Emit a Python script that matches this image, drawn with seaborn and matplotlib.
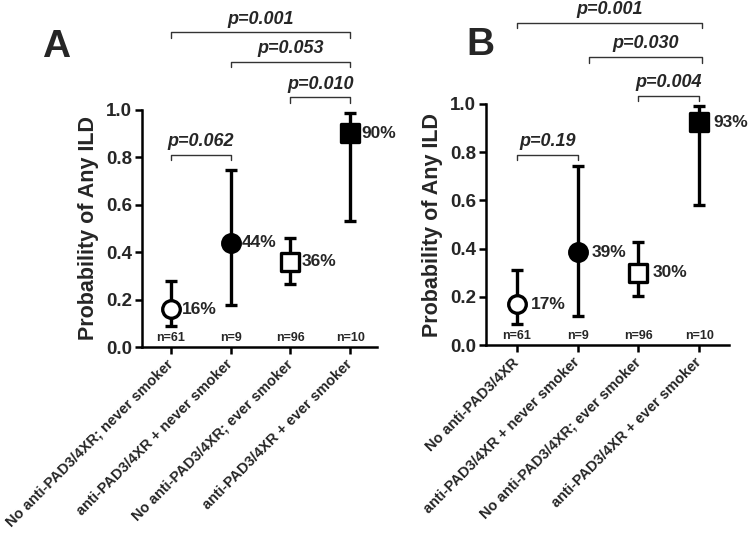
import numpy as np
import matplotlib
matplotlib.use("Agg")
import matplotlib.pyplot as plt
import seaborn as sns

sns.set_theme(style="ticks")
plt.rcParams['font.family'] = ['Liberation Sans', 'DejaVu Sans']
plt.rcParams['font.weight'] = 'bold'

# ---- data ----
cats_A = ["No anti-PAD3/4XR; never smoker", "anti-PAD3/4XR + never smoker",
          "No anti-PAD3/4XR; ever smoker", "anti-PAD3/4XR + ever smoker"]
cats_B = ["No anti-PAD3/4XR", "anti-PAD3/4XR + never smoker",
          "No anti-PAD3/4XR; ever smoker", "anti-PAD3/4XR + ever smoker"]
n_labels = ["n=61", "n=9", "n=96", "n=10"]

prob_A = [0.16, 0.44, 0.36, 0.90]
lo_A = [0.09, 0.175, 0.265, 0.532]
hi_A = [0.28, 0.745, 0.458, 0.987]
pct_A = ["16%", "44%", "36%", "90%"]

prob_B = [0.17, 0.385, 0.30, 0.925]
lo_B = [0.087, 0.12, 0.202, 0.58]
hi_B = [0.31, 0.742, 0.426, 0.993]
pct_B = ["17%", "39%", "30%", "93%"]

# brackets: (i, j, height, label)
brackets_A = [(0, 1, 0.81, "p=0.062"), (2, 3, 1.051, "p=0.010"),
              (1, 3, 1.20, "p=0.053"), (0, 3, 1.325, "p=0.001")]
brackets_B = [(0, 1, 0.788, "p=0.19"), (2, 3, 1.034, "p=0.004"),
              (1.18, 3.05, 1.194, "p=0.030"), (0, 3.05, 1.337, "p=0.001")]

markers = ["o", "o", "s", "s"]
faces = ["white", "black", "white", "black"]

fig = plt.figure(figsize=(7.53, 5.38), dpi=100)
axA = fig.add_axes([0.1886, 0.355, 0.312, 0.4414])
axB = fig.add_axes([0.6454, 0.3587, 0.3227, 0.448])


def draw(ax, cats, prob, lo, hi, pct, brackets, xlim, pct_off, letter, letter_xy):
    x = np.arange(len(cats))
    prob = np.array(prob)
    yerr = np.vstack([prob - np.array(lo), np.array(hi) - prob])
    ax.errorbar(x, prob, yerr=yerr, fmt='none', ecolor='black',
                elinewidth=2.4, capsize=4.2, capthick=2.4, zorder=2)
    for xi, yi, m, fc in zip(x, prob, markers, faces):
        sns.scatterplot(x=[xi], y=[yi], marker=m, s=160 if m == "o" else 150,
                        color=fc, edgecolor='black', linewidth=2.4,
                        zorder=3, ax=ax, legend=False)
    for xi, yi, t in zip(x, prob, pct):
        ax.annotate(t, (xi, yi), xytext=(pct_off, 0), textcoords='offset points',
                    ha='left', va='center', fontsize=12.5, fontweight='bold')
    for xi, t in zip(x, n_labels):
        ax.text(xi, 0.038, t, ha='center', va='center', fontsize=9, fontweight='bold')
    for i, j, h, t in brackets:
        d = 0.022
        ax.plot([i, i, j, j], [h - d, h, h, h - d], color='#333333', lw=1.0,
                clip_on=False)
        ax.text((i + j) / 2, h + 0.02, t, ha='center', va='bottom',
                fontsize=13, fontweight='bold', style='italic', clip_on=False)
    ax.set_xlim(*xlim)
    ax.set_ylim(0, 1.0)
    ax.set_yticks(np.arange(0, 1.01, 0.2))
    ax.set_yticklabels([f"{v:.1f}" for v in np.arange(0, 1.01, 0.2)],
                       fontsize=13.5, fontweight='bold')
    ax.set_xticks(x)
    ax.set_xticklabels(cats, rotation=45, ha='right', va='center',
                       rotation_mode='anchor', fontsize=10.5, fontweight='bold')
    ax.tick_params(axis='both', direction='out', length=5, width=1.8, color='black')
    ax.tick_params(axis='x', pad=6)
    ax.tick_params(axis='y', pad=2)
    for s in ['left', 'bottom']:
        ax.spines[s].set_linewidth(1.8)
        ax.spines[s].set_color('black')
    sns.despine(ax=ax)
    ax.set_ylabel("Probability of Any ILD", fontsize=15.5, fontweight='bold', labelpad=5)
    ax.set_xlabel("")
    fig.text(letter_xy[0], letter_xy[1], letter, fontsize=28, fontweight='bold',
             ha='left', va='baseline')


draw(axA, cats_A, prob_A, lo_A, hi_A, pct_A, brackets_A, (-0.486, 3.45), 8, "A",
     (42 / 753, 1 - 57 / 538))
draw(axB, cats_B, prob_B, lo_B, hi_B, pct_B, brackets_B, (-0.51, 3.49), 10, "B",
     (466 / 753, 1 - 55 / 538))

fig.savefig("out.png", dpi=100)
